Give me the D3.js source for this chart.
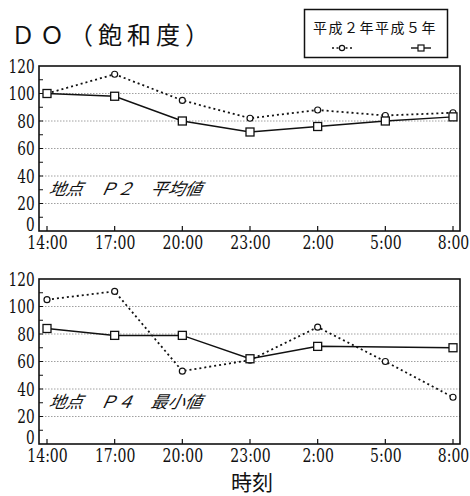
<!DOCTYPE html>
<html>
<head>
<meta charset="utf-8">
<script src="https://cdn.jsdelivr.net/npm/d3@7"></script>
<style>
  body { margin: 0; background: #fff; }
  svg { display: block; }
  .jp { font-family: 'Noto Sans CJK JP', sans-serif; fill: #111; }
</style>
</head>
<body>
<svg width="470" height="496"></svg>
<script>
      const times = ['14:00', '17:00', '20:00', '23:00', '2:00', '5:00', '8:00'];
      const yTicks = [0, 20, 40, 60, 80, 100, 120];
      const seriesNames = ['平成２年', '平成５年'];

      // 地点P2 平均値
      const p2Heisei2 = [100, 114, 95, 82, 88, 84, 86];
      const p2Heisei5 = [100, 98, 80, 72, 76, 80, 83];
      // 地点P4 最小値
      const p4Heisei2 = [105, 111, 53, 61, 85, 60, 34];
      const p4Heisei5 = [84, 79, 79, 62, 71, null, 70];

      const svg = d3.select('svg');
      const left = 39, right = 460;

      svg.append('text')
          .attr('class', 'jp')
          .attr('x', 11)
          .attr('y', 44)
          .attr('font-size', 24)
          .attr('letter-spacing', 5)
          .text('ＤＯ（飽和度）');

      // legend
      const lg = svg.append('g');
      lg.append('rect')
          .attr('x', 304.5).attr('y', 9.5)
          .attr('width', 143).attr('height', 48)
          .attr('fill', 'none').attr('stroke', '#111').attr('stroke-width', 1.5);
      lg.append('text')
          .attr('class', 'jp')
          .attr('x', 313).attr('y', 33)
          .attr('font-size', 14)
          .attr('letter-spacing', 1.5)
          .text(seriesNames.join(''));
      lg.append('line')
          .attr('x1', 332).attr('x2', 354).attr('y1', 48).attr('y2', 48)
          .attr('stroke', '#111').attr('stroke-width', 1.6).attr('stroke-dasharray', '2,2.5');
      lg.append('circle')
          .attr('cx', 342).attr('cy', 48).attr('r', 2.6)
          .attr('fill', '#fff').attr('stroke', '#111').attr('stroke-width', 1.2);
      lg.append('line')
          .attr('x1', 411).attr('x2', 431).attr('y1', 48).attr('y2', 48)
          .attr('stroke', '#111').attr('stroke-width', 1.4);
      lg.append('rect')
          .attr('x', 418).attr('y', 45).attr('width', 6).attr('height', 6)
          .attr('fill', '#fff').attr('stroke', '#111').attr('stroke-width', 1.2);

      const styleTicks = sel => sel
          .style('font-family', "'DejaVu Serif', 'Liberation Serif', serif")
          .style('font-size', '19px')
          .style('fill', '#111');

      const drawPanel = (top, bottom, h2, h5, label) => {
        const x = d3.scalePoint().domain(times).range([left + 8, right - 7]);
        const y = d3.scaleLinear().domain([0, 120]).range([bottom, top]);
        const g = svg.append('g');

        // grid
        g.selectAll('.grid').data([20, 40, 60, 80, 100])
          .enter().append('line')
            .attr('x1', left).attr('x2', right)
            .attr('y1', d => y(d)).attr('y2', d => y(d))
            .attr('stroke', '#888').attr('stroke-width', 0.8)
            .attr('stroke-dasharray', '1.5,1.5');

        // y axis with minor inner ticks
        const yAxis = d3.axisLeft(y).tickValues(yTicks).tickSize(0).tickPadding(6);
        const yG = g.append('g').attr('transform', `translate(${left},0)`).call(yAxis);
        yG.select('.domain').remove();
        yG.selectAll('text').call(styleTicks)
          .attr('transform', d => `scale(0.72,1) translate(0,${d === 0 ? -7 : 0})`);
        g.selectAll('.minor').data(d3.range(10, 120, 10))
          .enter().append('line')
            .attr('x1', left).attr('x2', left + 4)
            .attr('y1', d => y(d)).attr('y2', d => y(d))
            .attr('stroke', '#111').attr('stroke-width', 1);

        // x axis
        const xAxis = d3.axisBottom(x).tickSize(0).tickPadding(5);
        const xG = g.append('g').attr('transform', `translate(0,${bottom})`).call(xAxis);
        xG.select('.domain').remove();
        xG.selectAll('text').call(styleTicks).attr('transform', 'scale(0.74,1)');
        g.selectAll('.xtick').data(times)
          .enter().append('line')
            .attr('x1', d => x(d)).attr('x2', d => x(d))
            .attr('y1', bottom).attr('y2', bottom - 5)
            .attr('stroke', '#111').attr('stroke-width', 1.2);

        // frame
        g.append('rect')
          .attr('x', left).attr('y', top)
          .attr('width', right - left).attr('height', bottom - top)
          .attr('fill', 'none').attr('stroke', '#111').attr('stroke-width', 1.6);

        g.append('text')
          .attr('class', 'jp')
          .attr('x', 48).attr('y', y(20) - 8)
          .attr('font-size', 17)
          .attr('font-style', 'italic')
          .attr('transform', `skewX(-12) translate(${(y(20) - 8) * Math.tan(12 * Math.PI / 180)},0)`)
          .text(label);

        const line = d3.line()
          .x(d => x(d[0])).y(d => y(d[1]));

        const d2 = times.map((t, i) => [t, h2[i]]).filter(d => d[1] !== null);
        const d5 = times.map((t, i) => [t, h5[i]]).filter(d => d[1] !== null);

        g.append('path').datum(d2).attr('d', line)
          .attr('fill', 'none').attr('stroke', '#111').attr('stroke-width', 1.8)
          .attr('stroke-dasharray', '2,3');
        g.append('path').datum(d5).attr('d', line)
          .attr('fill', 'none').attr('stroke', '#111').attr('stroke-width', 1.5);

        g.selectAll('.c').data(d2)
          .enter().append('circle')
            .attr('cx', d => x(d[0])).attr('cy', d => y(d[1])).attr('r', 3)
            .attr('fill', '#fff').attr('stroke', '#111').attr('stroke-width', 1.2);
        g.selectAll('.s').data(d5)
          .enter().append('rect')
            .attr('x', d => x(d[0]) - 4).attr('y', d => y(d[1]) - 4)
            .attr('width', 8).attr('height', 8)
            .attr('fill', '#fff').attr('stroke', '#111').attr('stroke-width', 1.3);
      };

      drawPanel(66, 231, p2Heisei2, p2Heisei5, '地点　Ｐ２　平均値');
      drawPanel(279, 444, p4Heisei2, p4Heisei5, '地点　Ｐ４　最小値');

      svg.append('text')
          .attr('class', 'jp')
          .attr('x', 252).attr('y', 490)
          .attr('text-anchor', 'middle')
          .attr('font-size', 21)
          .text('時刻');
</script>
</body>
</html>
